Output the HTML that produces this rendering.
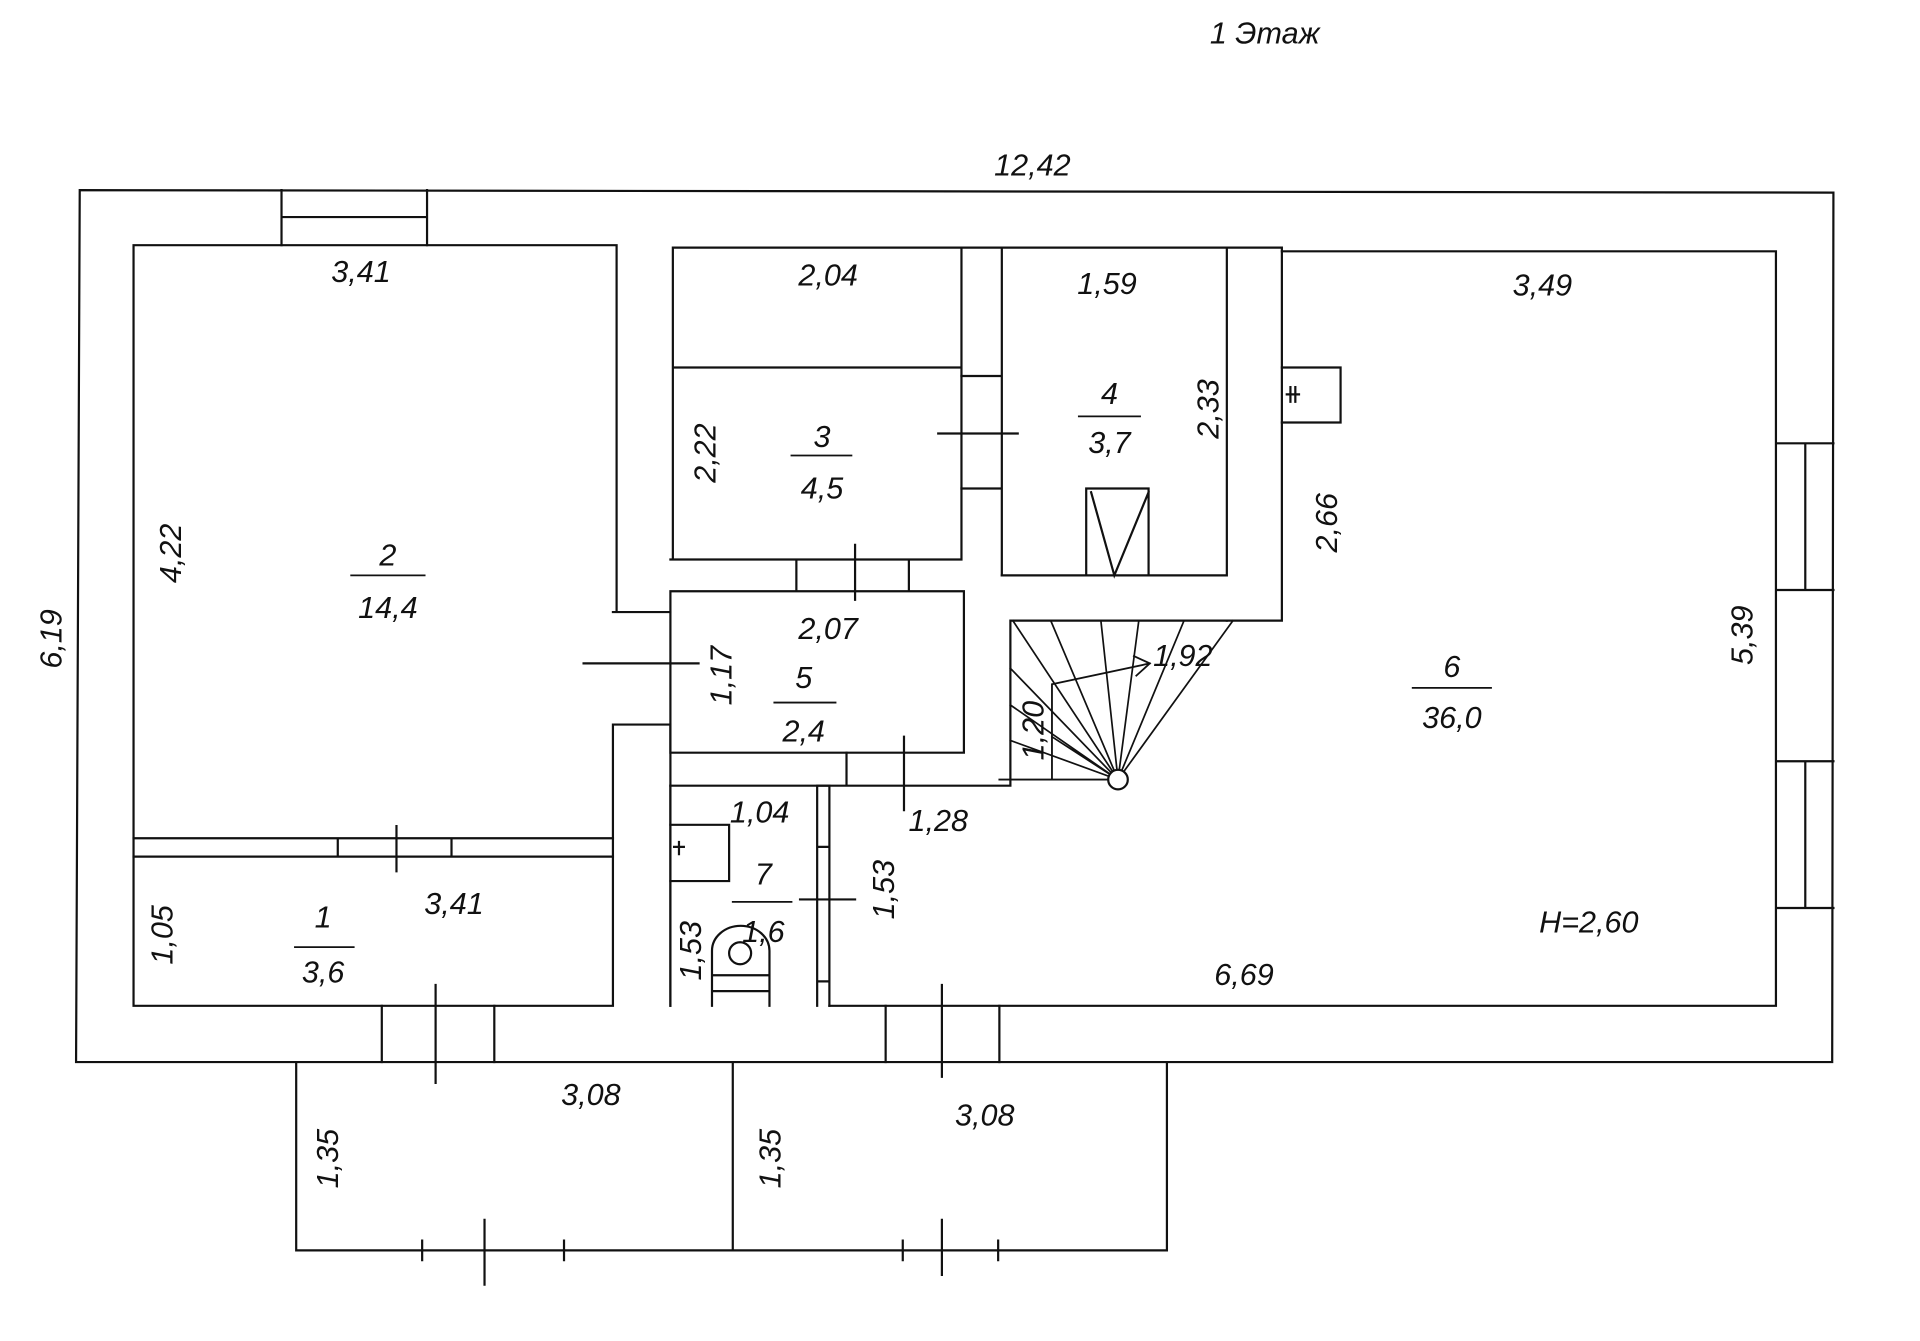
<!DOCTYPE html>
<html><head><meta charset="utf-8"><style>
html,body{margin:0;padding:0;background:#fff;}
svg{display:block;}
text{font-family:"Liberation Sans","DejaVu Sans",sans-serif;font-style:italic;font-size:25px;fill:#111;text-anchor:middle;}
</style></head><body>
<svg width="1920" height="1341" viewBox="0.8 -2.5 1570 1096.6" preserveAspectRatio="none" xmlns="http://www.w3.org/2000/svg">
<g fill="none" stroke="#111" stroke-width="1.8" stroke-linecap="square">
<!-- outer -->
<path d="M66,153 L1500,155 L1499,866 L63,866 Z"/>
<!-- top window -->
<path d="M231,153 V198 M350,153 V198 M231,175 H350"/>
<!-- room 2 / 1 -->
<path d="M110,198 H505 V498 M110,198 V820 H502 M502,590 V820 M549,590 V820 M502,498 H549 M502,590 H549 M505,498 V498"/>
<path d="M478,540 H572"/>
<path d="M110,683 H502 M110,698 H502 M277,683 V698 M370,683 V698 M325,673 V710"/>
<path d="M313,820 V866 M405,820 V866 M357,803 V883"/>
<!-- rooms 3 -->
<path d="M551,200 H787 V455 M551,200 V455 M551,298 H787 M549,455 H787 M549,481 H789 V613 H549 V481 M652,455 V481 M744,455 V481 M700,443 V488"/>
<path d="M787,200 H820 V468 M787,305 H820 M787,397 H820 M768,352 H833"/>
<!-- room 4 -->
<path d="M820,200 H1004 V468 H820 M1004,200 H1049 V505 H1004 M889,397 H940 V468 H889 Z M893,400 L912,468 L940,400"/>
<!-- room 6 top & right -->
<path d="M1049,203 H1453 V820 H679 M1453,360 H1500 M1453,480 H1500 M1453,620 H1500 M1453,740 H1500 M1477,360 V480 M1477,620 V740"/>
<path d="M1049,298 H1097 V343 H1049 M1053,320 H1063 M1056,314 V326 M1060,314 V326"/>
<!-- wall 5/7 -->
<path d="M549,640 H827 V505 H1004 M693,613 V640 M740,600 V660"/>
<!-- stair -->
<path d="M818,635 H908 M861,635 V557 L941,540 M928,534 L941,540 L930,550" stroke-width="1.5"/>
<path d="M915,635 L829,505 M915,635 L860,505 M915,635 L901,505 M915,635 L932,505 M915,635 L969,505 M915,635 L1009,505 M915,635 L827,544 M915,635 L827,574 M915,635 L827,603 M915,635 L861,600" stroke-width="1.4"/>
<circle cx="915" cy="635" r="8" fill="#fff"/>
<!-- room 7 -->
<path d="M549,640 V820 M669,640 V820 M679,640 V820 M669,640 H679 M669,690 H679 M669,800 H679 M655,733 H700"/>
<path d="M549,672 H597 V718 H549 M552,690 H560 M556,686 V696"/>
<path d="M583,820 V775 A23,20 0 0 1 630,775 V820 M583,795 H630 M583,808 H630"/>
<circle cx="606" cy="777" r="9"/>
<!-- bottom door room6 -->
<path d="M725,820 V866 M818,820 V866 M771,803 V878"/>
<!-- porches -->
<path d="M243,866 V1020 H955 V866 M600,866 V1020"/>
<path d="M346,1012 V1028 M462,1012 V1028 M397,995 V1048 M739,1012 V1028 M817,1012 V1028 M771,995 V1040"/>
<!-- fraction lines -->
<path d="M288,468 H348 M648,370 H697 M883,338 H933 M634,572 H684 M1156,560 H1220 M600,735 H648 M242,772 H290" stroke-width="1.5"/>
</g>
<text x="1035" y="33">1  Этаж</text>
<text x="845" y="141">12,42</text>
<text x="296" y="228">3,41</text>
<text x="678" y="231">2,04</text>
<text x="906" y="238">1,59</text>
<text x="1262" y="239">3,49</text>
<text x="318" y="460">2</text>
<text x="318" y="503">14,4</text>
<text x="673" y="363">3</text>
<text x="673" y="405">4,5</text>
<text x="908" y="328">4</text>
<text x="908" y="368">3,7</text>
<text x="678" y="520">2,07</text>
<text x="658" y="560">5</text>
<text x="658" y="604">2,4</text>
<text x="968" y="542">1,92</text>
<text x="1188" y="551">6</text>
<text x="1188" y="593">36,0</text>
<text x="622" y="670">1,04</text>
<text x="768" y="677">1,28</text>
<text x="625" y="721">7</text>
<text x="625" y="768">1,6</text>
<text x="372" y="745">3,41</text>
<text x="265" y="756">1</text>
<text x="265" y="801">3,6</text>
<text x="1300" y="760">H=2,60</text>
<text x="1018" y="803">6,69</text>
<text x="484" y="901">3,08</text>
<text x="806" y="918">3,08</text>
<text transform="translate(149,450) rotate(-90)">4,22</text>
<text transform="translate(51,520) rotate(-90)">6,19</text>
<text transform="translate(586,368) rotate(-90)">2,22</text>
<text transform="translate(997,332) rotate(-90)">2,33</text>
<text transform="translate(1094,425) rotate(-90)">2,66</text>
<text transform="translate(599,550) rotate(-90)">1,17</text>
<text transform="translate(854,595) rotate(-90)">1,20</text>
<text transform="translate(1434,517) rotate(-90)">5,39</text>
<text transform="translate(732,725) rotate(-90)">1,53</text>
<text transform="translate(574,775) rotate(-90)">1,53</text>
<text transform="translate(142,762) rotate(-90)">1,05</text>
<text transform="translate(277,945) rotate(-90)">1,35</text>
<text transform="translate(639,945) rotate(-90)">1,35</text>
</svg>
</body></html>
